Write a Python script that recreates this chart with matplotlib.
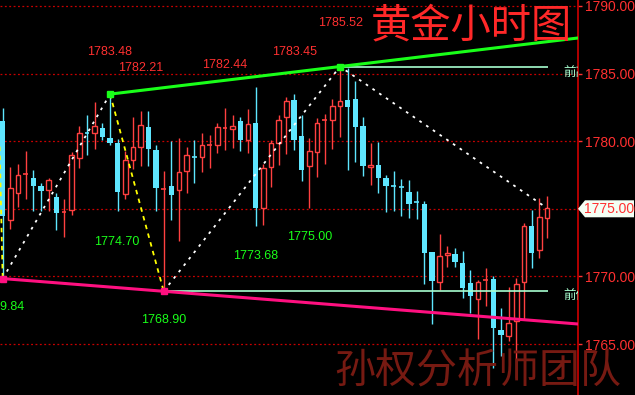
import matplotlib
matplotlib.use("Agg")
import matplotlib.pyplot as plt
from matplotlib.patches import Rectangle, Polygon

# hourly gold candles (open, high, low, close)
opens = [1781.5, 1774.17, 1776.2, 1777.55, 1777.3, 1776.7, 1776.4, 1775.87, 1774.74, 1774.9,
         1778.78, 1780.63, 1780.63, 1780.98, 1780.25, 1779.87, 1776.12, 1778.63, 1779.6, 1781.05,
         1779.35, 1776.5, 1776.69, 1776.37, 1777.77, 1778.8, 1778.8, 1779.7, 1779.7, 1781.0,
         1780.9, 1781.5, 1780.09, 1781.37, 1775.08, 1778.1, 1779.9, 1781.77, 1783.05, 1780.38,
         1778.2, 1779.22, 1781.55, 1781.55, 1782.58, 1783.05, 1783.12, 1781.12, 1778.07, 1778.24,
         1777.28, 1776.71, 1776.6, 1776.24, 1775.48, 1775.36, 1771.8, 1769.56, 1771.56, 1771.68,
         1770.99, 1769.51, 1768.35, 1769.76, 1769.8, 1766.04, 1765.62, 1766.68, 1769.56, 1773.73,
         1771.98, 1774.34]
highs = [1782.45, 1778.1, 1778.3, 1779.3, 1777.9, 1776.9, 1777.3, 1776.17, 1775.7, 1779.2,
         1781.1, 1781.94, 1782.9, 1781.35, 1783.48, 1780.14, 1779.3, 1781.8, 1782.23, 1782.23,
         1779.7, 1777.8, 1780.0, 1780.24, 1779.57, 1780.09, 1780.6, 1780.46, 1781.35, 1782.46,
         1781.94, 1781.77, 1782.38, 1784.0, 1778.3, 1780.1, 1781.9, 1783.27, 1783.5, 1781.94,
         1780.24, 1781.7, 1782.0, 1783.1, 1785.52, 1785.4, 1784.45, 1781.8, 1779.87, 1779.94,
         1777.48, 1777.8, 1777.2, 1777.13, 1776.3, 1775.58, 1771.8, 1773.14, 1772.27, 1772.08,
         1771.88, 1770.47, 1769.73, 1770.6, 1770.03, 1767.66, 1769.2, 1769.88, 1773.95, 1774.9,
         1775.8, 1775.97]
lows = [1769.84, 1773.5, 1775.1, 1775.75, 1774.86, 1774.86, 1774.86, 1773.45, 1772.9, 1774.56,
        1778.04, 1779.0, 1779.4, 1780.07, 1779.74, 1774.8, 1775.7, 1777.94, 1778.19, 1778.19,
        1774.8, 1768.9, 1774.17, 1772.64, 1776.2, 1776.93, 1777.74, 1778.04, 1779.1, 1779.37,
        1779.47, 1779.3, 1779.15, 1773.75, 1773.8, 1776.63, 1778.26, 1779.08, 1779.37, 1777.08,
        1775.08, 1777.37, 1778.33, 1779.45, 1780.29, 1777.9, 1778.48, 1777.45, 1776.78, 1776.2,
        1774.79, 1774.86, 1774.5, 1774.32, 1774.27, 1769.46, 1766.46, 1769.0, 1770.72, 1770.72,
        1768.43, 1767.27, 1765.4, 1767.8, 1763.25, 1764.13, 1765.24, 1762.46, 1766.83, 1770.64,
        1771.38, 1772.86]
closes = [1774.5, 1776.54, 1777.5, 1777.55, 1776.7, 1776.34, 1777.1, 1774.7, 1774.74, 1778.96,
          1780.58, 1780.62, 1781.1, 1780.33, 1779.88, 1776.27, 1778.59, 1779.57, 1781.2, 1779.42,
          1776.56, 1776.5, 1776.04, 1777.72, 1778.96, 1778.79, 1779.7, 1779.7, 1781.03, 1781.0,
          1781.1, 1780.09, 1781.27, 1775.08, 1778.0, 1779.84, 1781.55, 1782.95, 1780.1, 1777.9,
          1779.25, 1781.32, 1781.55, 1782.58, 1782.95, 1782.53, 1781.07, 1778.19, 1778.24, 1777.3,
          1776.71, 1776.70, 1776.59, 1775.38, 1775.47, 1771.75, 1769.68, 1771.5, 1771.75, 1771.07,
          1769.16, 1768.57, 1769.56, 1769.76, 1766.2, 1765.67, 1766.53, 1769.42, 1773.7, 1771.75,
          1774.39, 1775.06]

# swing points (candle index, price)
pivot_idx = [0, 14, 21, 44, 71]
pivot_px = [1769.84, 1783.48, 1768.90, 1785.52, 1775.05]

high_labels = ["1783.48", "1782.21", "1782.44", "1783.45", "1785.52"]
high_label_pos = [(14.0, 1786.6), (18.0, 1785.41), (29.0, 1785.64), (38.1, 1786.6), (44.1, 1788.74)]
low_labels = ["1774.70", "1773.68", "1775.00", "1768.90"]
low_label_pos = [(14.9, 1772.54), (33.0, 1771.51), (40.1, 1772.91), (21.0, 1766.78)]

yticks = [1765, 1770, 1775, 1780, 1785, 1790]
last_price = 1775.00

UP = "#ff4040"
DOWN = "#5ee6ff"
BG = "black"

num_font = ["Liberation Sans", "DejaVu Sans"]
cjk = ["Noto Sans CJK SC", "DejaVu Sans"]

W, H = 635, 395
fig = plt.figure(figsize=(W / 100, H / 100), dpi=100, facecolor=BG)
ax = fig.add_axes([0, 0, 578 / W, 1])
ax.set_facecolor(BG)
ax.set_xlim(-0.352, 75.04)
ax.set_ylim(1761.23, 1790.44)

# grid
for t in yticks:
    ax.axhline(t, color="#c80000", lw=0.9, ls=(0, (1.5, 2.0)), zorder=1)

# candles
bw = 0.62
for i, (o, h, l, c) in enumerate(zip(opens, highs, lows, closes)):
    up = c >= o
    col = UP if up else DOWN
    ax.vlines(i, l, h, color=col, lw=1.0, zorder=2)
    lo, hi = min(o, c), max(o, c)
    if hi - lo < 0.12:
        ax.hlines(o, i - bw / 2, i + bw / 2, color=col, lw=1.2, zorder=3)
    elif up:
        ax.add_patch(Rectangle((i - bw / 2, lo), bw, hi - lo, facecolor=BG,
                               edgecolor=col, lw=1.0, zorder=3))
    else:
        ax.add_patch(Rectangle((i - bw / 2 - 0.03, lo), bw + 0.06, hi - lo,
                               facecolor=col, edgecolor="none", zorder=3))

# trend lines through swing highs / lows, extended to the right edge
x_end = 75.04
s_hi = (pivot_px[3] - pivot_px[1]) / (pivot_idx[3] - pivot_idx[1])
ax.plot([pivot_idx[1], x_end], [pivot_px[1], pivot_px[3] + s_hi * (x_end - pivot_idx[3])],
        color="#19ff19", lw=2.2, zorder=5)
s_lo = (pivot_px[2] - pivot_px[0]) / (pivot_idx[2] - pivot_idx[0])
ax.plot([pivot_idx[0], x_end], [pivot_px[0], pivot_px[0] + s_lo * x_end],
        color="#ff1080", lw=2.2, zorder=5)

# previous high / low levels
ax.hlines(pivot_px[3], pivot_idx[3], 71.1, color="#a8ffd0", lw=1.2, zorder=4)
ax.hlines(pivot_px[2], pivot_idx[2], 71.1, color="#a8ffd0", lw=1.2, zorder=4)
ax.text(73.1, 1785.1, "前高", color="#a8ffd0", fontsize=9, family=cjk,
        ha="left", va="center", clip_on=True, zorder=6)
ax.text(73.1, 1768.5, "前低", color="#a8ffd0", fontsize=9, family=cjk,
        ha="left", va="center", clip_on=True, zorder=6)

# zigzag
ax.plot([-0.4, pivot_idx[0]], [1779.6, pivot_px[0]], color="#ffff00", lw=1.3,
        ls=(0, (2.5, 2.5)), zorder=4)
ax.plot(pivot_idx[0:2], pivot_px[0:2], color="white", lw=1.3, ls=(0, (1.5, 3)), zorder=4)
ax.plot(pivot_idx[1:3], pivot_px[1:3], color="#ffff00", lw=1.3, ls=(0, (2.5, 2.5)), zorder=4)
ax.plot(pivot_idx[2:5], pivot_px[2:5], color="white", lw=1.3, ls=(0, (1.5, 3)), zorder=4)

ax.plot([pivot_idx[1], pivot_idx[3]], [pivot_px[1], pivot_px[3]], "s",
        color="#19ff19", ms=4.5, zorder=6)
ax.plot([pivot_idx[0], pivot_idx[2]], [pivot_px[0], pivot_px[2]], "s",
        color="#ff1080", ms=4.5, zorder=6)

for s, (x, y) in zip(high_labels, high_label_pos):
    ax.text(x, y, s, color="#ff3030", fontsize=9, family=num_font,
            ha="center", va="center", zorder=6)
for s, (x, y) in zip(low_labels, low_label_pos):
    ax.text(x, y, s, color="#19ff19", fontsize=9, family=num_font,
            ha="center", va="center", zorder=6)
ax.text(2.8, 1767.74, "1769.84", color="#19ff19", fontsize=9, family=num_font,
        ha="right", va="center", zorder=6)

# right price axis
ax.yaxis.tick_right()
ax.set_yticks(yticks)
ax.set_yticklabels([f"{t:.2f}" for t in yticks], color="#ff3030",
                   fontsize=10, family=num_font)
ax.tick_params(axis="y", colors="#ff3030", length=3, width=1, pad=2)
ax.tick_params(axis="x", bottom=False, labelbottom=False)
for side in ["top", "bottom", "left"]:
    ax.spines[side].set_visible(False)
ax.spines["right"].set_color("#d00000")
ax.spines["right"].set_linewidth(1.2)

# last price tag
ty = ax.transData.transform((0, last_price))[1]
fy = ty / H
tag = Polygon([(578 / W, fy), (585 / W, fy + 8.5 / H), (634 / W, fy + 8.5 / H),
               (634 / W, fy - 8.5 / H), (585 / W, fy - 8.5 / H)],
              closed=True, transform=fig.transFigure, facecolor="#f4fff4",
              edgecolor="none", zorder=5)
fig.add_artist(tag)
fig.text(609 / W, fy, f"{last_price:.2f}", color="#ff3030", fontsize=10,
         family=num_font, ha="center", va="center", zorder=6)

# titles
fig.text(471 / W, 1 - 26 / H, "黄金小时图", color="#ff2828", fontsize=29,
         family=cjk, ha="center", va="center", zorder=7)
fig.text(478 / W, 1 - 372 / H, "孙权分析师团队", color="#761a12", fontsize=29.5,
         family=cjk, ha="center", va="center", zorder=7)

fig.savefig("out.png", dpi=100, facecolor=BG)
